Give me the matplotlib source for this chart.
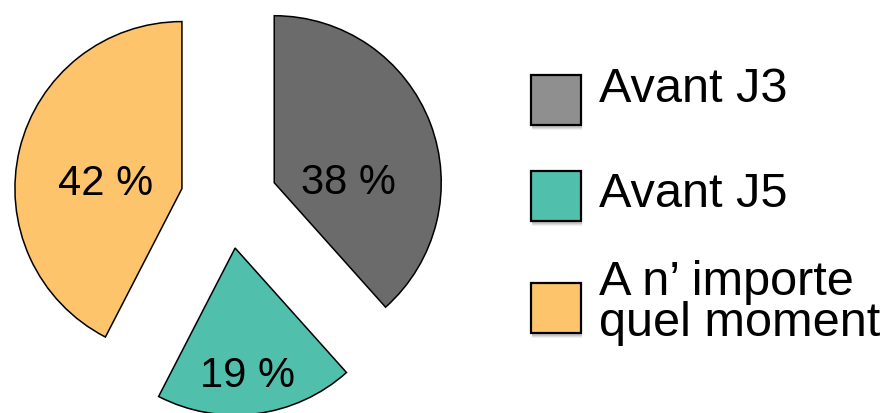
import matplotlib.pyplot as plt
from matplotlib.patches import Rectangle

labels = ["Avant J3", "Avant J5", "A n\u2019 importe\nquel moment"]
values = [38, 19, 42]
pie_colors = ["#6b6b6b", "#50bfab", "#fec46c"]
legend_colors = ["#8f8f8f", "#50bfab", "#fec46c"]

plt.rcParams["font.family"] = ["Liberation Sans", "DejaVu Sans"]

W, H = 880, 413
fig = plt.figure(figsize=(W / 100, H / 100), dpi=100)
ax = fig.add_axes([0, 0, 1, 1])

# pie centre and radius in pixels, axes set so 1 unit = radius
cx, cy, r = 229, 200, 167

wedges, texts, autotexts = ax.pie(
    values, colors=pie_colors, startangle=90, counterclock=False,
    explode=[0.29] * 3, radius=1, center=(0, 0),
    autopct=lambda p: f"{p:.0f} %", pctdistance=0.45,
    wedgeprops=dict(edgecolor="black", linewidth=1.1),
    textprops=dict(fontsize=30, color="black"), frame=True,
)
ax.set_xlim(-cx / r, (W - cx) / r)
ax.set_ylim(-(H - cy) / r, cy / r)
ax.set_aspect("auto")
ax.axis("off")

# label offsets (baseline) from the wedge apex, in radius units
offsets = [(0.446, -0.066), (0.072, -0.832), (-0.458, -0.036)]
for w, t, (dx, dy) in zip(wedges, autotexts, offsets):
    x0, y0 = w.center
    t.set_position((x0 + dx, y0 + dy))
    t.set_ha("center")
    t.set_va("baseline")

# legend drawn by hand, figure pixel coordinates (y from top)
box_x, box_w = 531, 50
box_tops = [75, 171, 283]
text_baselines = [[102], [207], [295, 336]]


def fx(px):
    return px / W


def fy(py):
    return 1 - py / H


for col, lab, top, bases in zip(legend_colors, labels, box_tops, text_baselines):
    # soft shadow
    for k, a in [(5, 0.06), (4, 0.08), (3, 0.10)]:
        fig.patches.append(Rectangle((fx(box_x + 1), fy(top + box_w + k)), box_w / W, box_w / H,
                                     transform=fig.transFigure, facecolor="black",
                                     alpha=a, edgecolor="none"))
    fig.patches.append(Rectangle((fx(box_x), fy(top + box_w)), box_w / W, box_w / H,
                                 transform=fig.transFigure, facecolor=col,
                                 edgecolor="black", linewidth=1.6))
    for line, b in zip(lab.split("\n"), bases):
        fig.text(fx(599), fy(b), line, fontsize=35, ha="left", va="baseline")

fig.savefig("out.png", dpi=100)
